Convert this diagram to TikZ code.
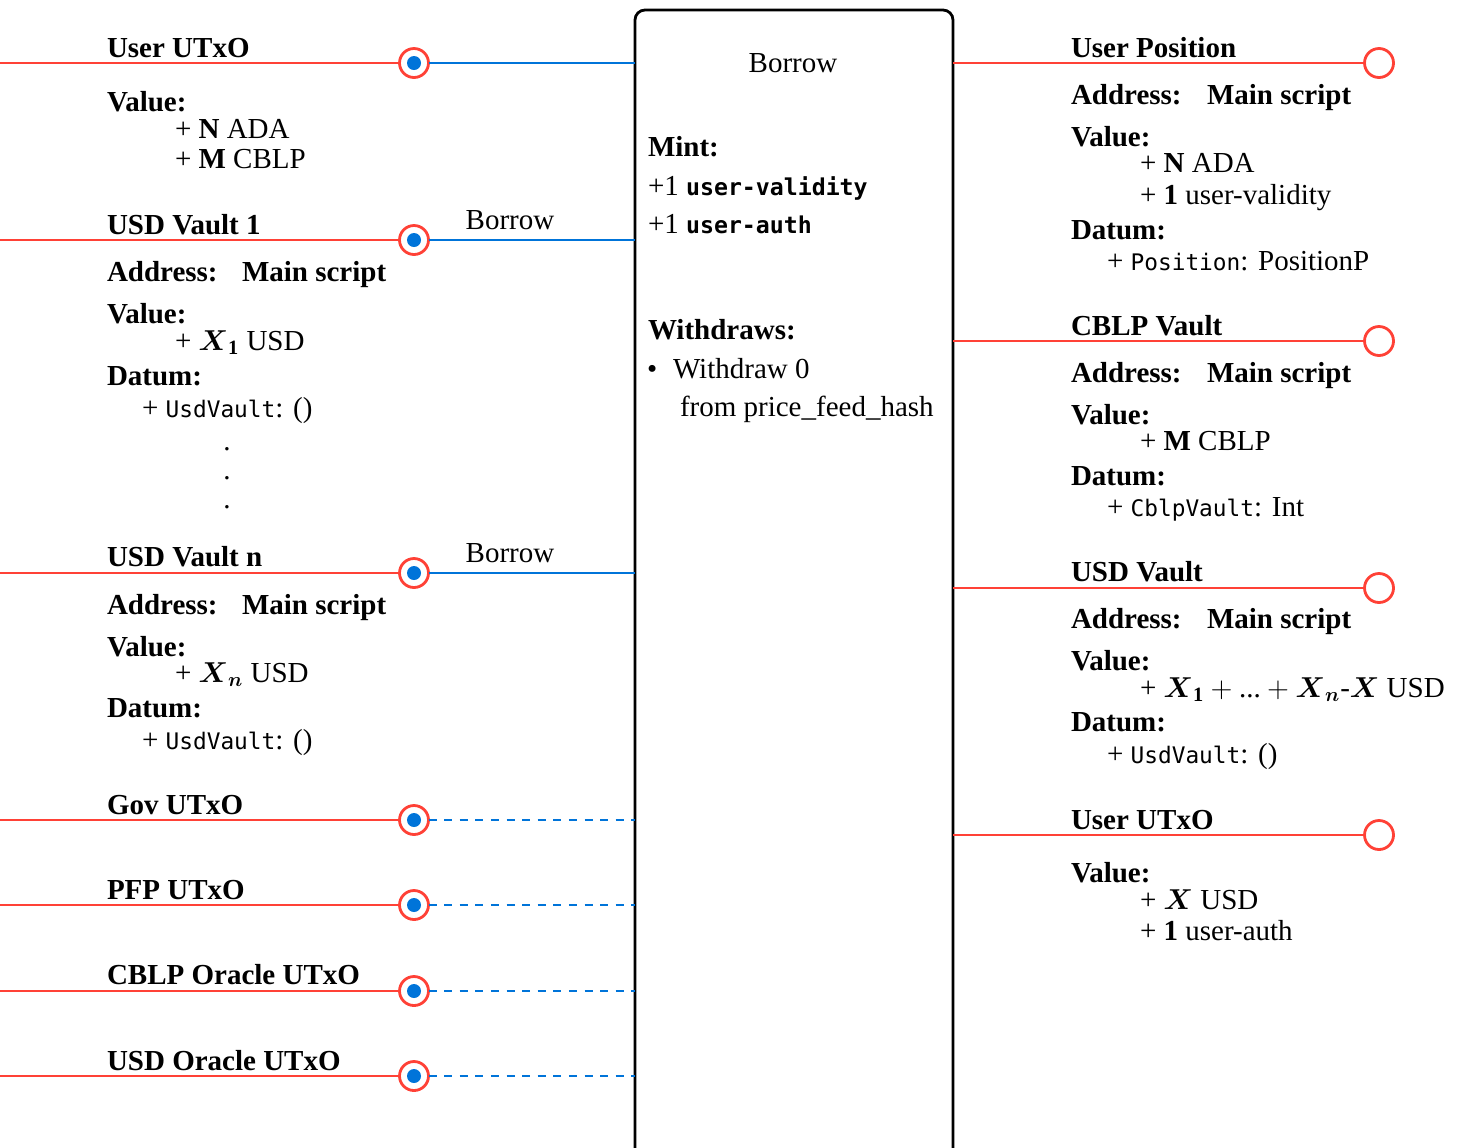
\documentclass[tikz,border=0pt]{standalone}
\usepackage{amsmath}
\usepackage{fontspec}
\setmainfont{Liberation Serif}
\newfontfamily\codefont{DejaVu Sans Mono}
\definecolor{tred}{HTML}{FF4136}
\definecolor{tblue}{HTML}{0074D9}
\newcommand{\cd}[1]{{\codefont\fontsize{11.4}{14}\selectfont #1}}
\newcommand{\cdb}[1]{{\codefont\bfseries\fontsize{11.6}{14}\selectfont #1}}
\tikzset{
  txt/.style={anchor=base west, inner sep=0pt, outer sep=0pt, font=\fontsize{14.5}{17}\selectfont},
  hd/.style={txt, font=\fontsize{14.5}{17}\selectfont\bfseries},
  redline/.style={draw=tred, line width=1.2pt},
  blueline/.style={draw=tblue, line width=1.2pt},
  bluedash/.style={draw=tblue, line width=1.2pt, dash pattern=on 4pt off 3.8pt},
  port/.style={circle, draw=tred, line width=1.4pt, fill=white, minimum size=14.5pt, inner sep=0pt, outer sep=0pt},
  txbox/.style={draw=black, line width=1.4pt, rounded corners=5pt, minimum width=159pt, minimum height=590pt, inner sep=0pt, outer sep=0pt}
}
\begin{document}
\begin{tikzpicture}[x=0.5pt,y=-0.5pt]
\useasboundingbox (0,0) rectangle (1461,1147);
\clip (0,0) rectangle (1461,1147);

% central transaction box
\node[txbox] (tx) at (794,600) {};

% ports
\node[port] (ip1) at (414,63) {};
\node[port] (ip2) at (414,240) {};
\node[port] (ip3) at (414,573) {};
\node[port] (ip4) at (414,820) {};
\node[port] (ip5) at (414,905) {};
\node[port] (ip6) at (414,991) {};
\node[port] (ip7) at (414,1076) {};
\node[port] (op1) at (1379,63) {};
\node[port] (op2) at (1379,341) {};
\node[port] (op3) at (1379,588) {};
\node[port] (op4) at (1379,835) {};

\coordinate (l1) at (0,63);
\coordinate (l2) at (0,240);
\coordinate (l3) at (0,573);
\coordinate (l4) at (0,820);
\coordinate (l5) at (0,905);
\coordinate (l6) at (0,991);
\coordinate (l7) at (0,1076);

\foreach \i in {1,...,7} { \draw[redline] (l\i) -- (ip\i); }
\foreach \i in {1,2,3} { \draw[blueline] (ip\i) -- (ip\i -| tx.west); }
\foreach \i in {4,5,6,7} { \draw[bluedash] (ip\i) -- (ip\i -| tx.west); }
\foreach \i in {1,...,4} { \draw[redline] (op\i -| tx.east) -- (op\i); }
\foreach \i in {1,...,7} { \fill[tblue] (ip\i) circle (3.5pt); }

\node[txt, anchor=base] (bl1) at (510,229) {Borrow};
\node[txt, anchor=base] (bl2) at (510,562) {Borrow};

% left: User UTxO
\node[hd] (lu) at (107,57) {User UTxO};
\node[hd] (luv) at (107,111) {Value:};
\node[txt] (lua) at (175,138) {+ \textbf{N} ADA};
\node[txt] (lub) at (175,168) {+ \textbf{M} CBLP};

% left: USD Vault 1
\node[hd] (lv1) at (107,234) {USD Vault 1};
\node[hd] (lv1ad) at (107,281) {Address:};
\node[hd] (lv1ms) at (242,281) {Main script};
\node[hd] (lv1v) at (107,323) {Value:};
\node[txt] (lv1x) at (175,350) {+ $\boldsymbol{X}_{\mathbf{1}}$ USD};
\node[hd] (lv1d) at (107,385) {Datum:};
\node[txt] (lv1u) at (142,417) {+ \cd{UsdVault}: ()};
\node[txt, anchor=center] (dot1) at (227,449) {.};
\node[txt, anchor=center] (dot2) at (227,478) {.};
\node[txt, anchor=center] (dot3) at (227,507) {.};

% left: USD Vault n
\node[hd] (lvn) at (107,566) {USD Vault n};
\node[hd] (lvnad) at (107,614) {Address:};
\node[hd] (lvnms) at (242,614) {Main script};
\node[hd] (lvnv) at (107,656) {Value:};
\node[txt] (lvnx) at (175,682) {+ $\boldsymbol{X}_{\boldsymbol{n}}$ USD};
\node[hd] (lvnd) at (107,717) {Datum:};
\node[txt] (lvnu) at (142,749) {+ \cd{UsdVault}: ()};

% left: reference inputs
\node[hd] (lgov) at (107,814) {Gov UTxO};
\node[hd] (lpfp) at (107,899) {PFP UTxO};
\node[hd] (lcor) at (107,984) {CBLP Oracle UTxO};
\node[hd] (luor) at (107,1070) {USD Oracle UTxO};

% middle
\node[txt, anchor=base] (bt) at (793,72) {Borrow};
\node[hd] (mint) at (648,156) {Mint:};
\node[txt] (m1) at (648,195) {+1 \cdb{user-validity}};
\node[txt] (m2) at (648,233) {+1 \cdb{user-auth}};
\node[hd] (wd) at (648,339) {Withdraws:};
\node[txt] (bul) at (647,378) {•};
\node[txt] (w1) at (673,378) {Withdraw 0};
\node[txt] (w2) at (680,416) {from price\_feed\_hash};

% right: User Position
\node[hd] (rp) at (1071,57) {User Position};
\node[hd] (rpad) at (1071,104) {Address:};
\node[hd] (rpms) at (1207,104) {Main script};
\node[hd] (rpv) at (1071,146) {Value:};
\node[txt] (rpa) at (1140,172) {+ \textbf{N} ADA};
\node[txt] (rpb) at (1140,204) {+ \textbf{1} user-validity};
\node[hd] (rpd) at (1071,239) {Datum:};
\node[txt] (rpdd) at (1107,270) {+ \cd{Position}: PositionP};

% right: CBLP Vault
\node[hd] (rc) at (1071,335) {CBLP Vault};
\node[hd] (rcad) at (1071,382) {Address:};
\node[hd] (rcms) at (1207,382) {Main script};
\node[hd] (rcv) at (1071,424) {Value:};
\node[txt] (rca) at (1140,450) {+ \textbf{M} CBLP};
\node[hd] (rcd) at (1071,485) {Datum:};
\node[txt] (rcdd) at (1107,516) {+ \cd{CblpVault}: Int};

% right: USD Vault
\node[hd] (ru) at (1071,581) {USD Vault};
\node[hd] (ruad) at (1071,628) {Address:};
\node[hd] (rums) at (1207,628) {Main script};
\node[hd] (ruv) at (1071,670) {Value:};
\node[txt] (rua) at (1140,697) {+ $\boldsymbol{X}_{\mathbf{1}}+\text{...}+\boldsymbol{X}_{\boldsymbol{n}}$-$\boldsymbol{X}$ USD};
\node[hd] (rud) at (1071,731) {Datum:};
\node[txt] (rudd) at (1107,763) {+ \cd{UsdVault}: ()};

% right: User UTxO
\node[hd] (ro) at (1071,829) {User UTxO};
\node[hd] (rov) at (1071,882) {Value:};
\node[txt] (roa) at (1140,909) {+ $\boldsymbol{X}$ USD};
\node[txt] (rob) at (1140,940) {+ \textbf{1} user-auth};
\end{tikzpicture}
\end{document}
